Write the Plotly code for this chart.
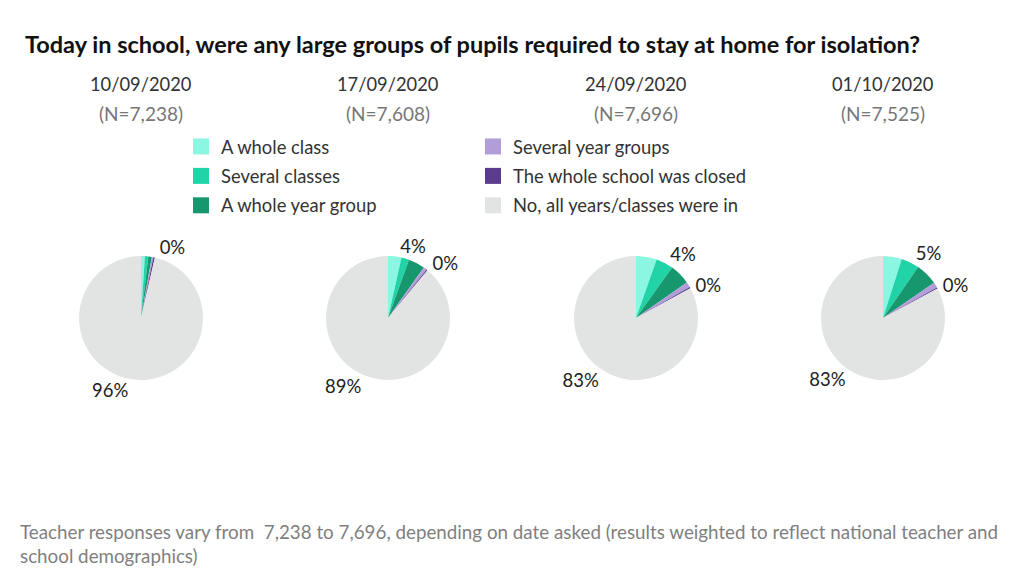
import plotly.graph_objects as go

W, H = 1024, 585
OFF = 8  # page body margin offset

categories = ["A whole class", "Several classes", "A whole year group",
              "Several year groups", "The whole school was closed",
              "No, all years/classes were in"]
colors = ["#8BF6E1", "#20D4A7", "#16976E", "#B19DD8", "#5A3B8C", "#E2E3E3"]

dates = ["10/09/2020", "17/09/2020", "24/09/2020", "01/10/2020"]
ns = ["(N=7,238)", "(N=7,608)", "(N=7,696)", "(N=7,525)"]

values_1009 = [1.0, 0.9, 0.9, 0.4, 0.4, 96.4]
values_1709 = [3.5, 2.0, 4.3, 0.9, 0.3, 89.0]
values_2409 = [5.4, 4.5, 5.4, 1.4, 0.3, 83.0]
values_0110 = [4.9, 4.7, 5.8, 1.4, 0.3, 82.9]

# labels drawn on the main pie (closure + "No")
labels_1009 = ["", "", "", "", "0%", "96%"]
labels_1709 = ["", "", "", "", "0%", "89%"]
labels_2409 = ["", "", "", "", "0%", "83%"]
labels_0110 = ["", "", "", "", "0%", "83%"]
# class-level labels drawn on a transparent overlay of the same pie
class_labels_1009 = ["", "", "", "", "", ""]
class_labels_1709 = ["4%", "", "", "", "", ""]
class_labels_2409 = ["", "4%", "", "", "", ""]
class_labels_0110 = ["", "5%", "", "", "", ""]

all_values = [values_1009, values_1709, values_2409, values_0110]
all_labels = [labels_1009, labels_1709, labels_2409, labels_0110]
all_class_labels = [class_labels_1009, class_labels_1709, class_labels_2409, class_labels_0110]

title = "Today in school, were any large groups of pupils required to stay at home for isolation?"
footnote = ("Teacher responses vary from  7,238 to 7,696, depending on date asked (results weighted to reflect national teacher and"
            "<br>school demographics)")

FONT = "Lato, 'Open Sans', sans-serif"


def xp(px):
    return (px - OFF) / W


def yp(py):
    return 1 - (py - OFF) / H


centers_x = [141, 388, 636, 883]
center_y = 318
radius = 62
label_font = dict(family=FONT, size=18.5, color="#222222")

fig = go.Figure()

for i, (vals, labs, clabs) in enumerate(zip(all_values, all_labels, all_class_labels)):
    cx = centers_x[i]
    dom = dict(x=[xp(cx - radius), xp(cx + radius)],
               y=[yp(center_y + radius), yp(center_y - radius)])
    fig.add_trace(go.Pie(
        labels=categories, values=vals, text=labs,
        textinfo="text", textposition=["outside" if t else "none" for t in labs],
        outsidetextfont=label_font,
        marker=dict(colors=colors, line=dict(width=0)),
        sort=False, direction="clockwise", rotation=0,
        domain=dom, showlegend=False, hoverinfo="label+value",
    ))
    if any(clabs):
        fig.add_trace(go.Pie(
            labels=categories, values=vals, text=clabs,
            textinfo="text", textposition=["outside" if t else "none" for t in clabs],
            outsidetextfont=label_font,
            marker=dict(colors=["rgba(0,0,0,0)"] * len(vals), line=dict(width=0)),
            sort=False, direction="clockwise", rotation=0,
            domain=dom, showlegend=False, hoverinfo="skip",
        ))

for j, (cat, col) in enumerate(zip(categories, colors)):
    fig.add_trace(go.Scatter(
        x=[None], y=[None], mode="markers", name=cat,
        marker=dict(symbol="square", size=18, color=col),
        legend="legend" if j < 3 else "legend2",
        legendgroup=cat, showlegend=True,
    ))

legend_common = dict(
    font=dict(family=FONT, size=18.4, color="#333333"),
    bgcolor="rgba(0,0,0,0)", tracegroupgap=2.5,
    orientation="v", xanchor="left", yanchor="top", itemsizing="trace",
)
fig.update_layout(
    legend=dict(x=xp(181), y=yp(128), **legend_common),
    legend2=dict(x=xp(473), y=yp(128), **legend_common),
)

annotations = []
for i in range(4):
    annotations.append(dict(
        text=dates[i], x=xp(centers_x[i]), y=yp(84), xref="paper", yref="paper",
        showarrow=False, xanchor="center", yanchor="middle",
        font=dict(family=FONT, size=18.3, color="#333333")))
    annotations.append(dict(
        text=ns[i], x=xp(centers_x[i]), y=yp(113), xref="paper", yref="paper",
        showarrow=False, xanchor="center", yanchor="middle",
        font=dict(family=FONT, size=19, color="#777777")))
annotations.append(dict(
    text=footnote, x=xp(18), y=yp(543), xref="paper", yref="paper",
    showarrow=False, xanchor="left", yanchor="middle", align="left",
    font=dict(family=FONT, size=18.8, color="#7f7f7f")))

fig.update_layout(
    width=W, height=H,
    margin=dict(l=0, r=0, t=0, b=0),
    paper_bgcolor="white", plot_bgcolor="white",
    title=dict(text="<b>" + title + "</b>", x=xp(25), xanchor="left",
               y=yp(45), yanchor="middle", yref="container",
               font=dict(family=FONT, size=23.5, color="#111111")),
    annotations=annotations,
    xaxis=dict(visible=False), yaxis=dict(visible=False),
)

fig.write_html("out.html")
